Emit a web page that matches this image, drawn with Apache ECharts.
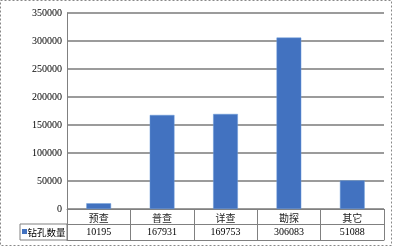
<!DOCTYPE html>
<html><head><meta charset="utf-8">
<script src="https://cdn.jsdelivr.net/npm/echarts@6/dist/echarts.min.js"></script>
<style>html,body{margin:0;padding:0;background:#fff}#c{width:396px;height:247px}</style>
</head><body><div id="c"></div>
<script>
var categories = ['预查', '普查', '详查', '勘探', '其它'];
var values = [10195, 167931, 169753, 306083, 51088];
var seriesName = '钻孔数量';
var yTicks = [0, 50000, 100000, 150000, 200000, 250000, 300000, 350000];

var serif = 'Liberation Serif, "Noto Sans CJK SC", serif';
var lineGray = '#808080';
var chart = echarts.init(document.getElementById('c'), null, {renderer: 'canvas'});
chart.setOption({
  animation: false,
  grid: {left: 67, right: 12, top: 13, bottom: 38, containLabel: false},
  xAxis: [
    {type: 'category', data: categories, position: 'bottom',
     axisLine: {show: true, lineStyle: {color: lineGray, width: 1}},
     axisTick: {show: true, interval: 0, length: 31, lineStyle: {color: lineGray}},
     axisLabel: {interval: 0, margin: 4, color: '#222', fontSize: 10, fontFamily: '"Noto Sans CJK SC", serif'},
     splitLine: {show: false}},
    {type: 'category', data: values.map(String), position: 'bottom', offset: 15,
     axisLine: {show: true, lineStyle: {color: lineGray, width: 1}},
     axisTick: {show: false},
     axisLabel: {interval: 0, margin: 3, color: '#000', fontSize: 10, fontFamily: serif}},
    {type: 'category', data: categories, position: 'bottom', offset: 31,
     axisLine: {show: true, lineStyle: {color: lineGray, width: 1}},
     axisTick: {show: false}, axisLabel: {show: false}}
  ],
  yAxis: {type: 'value', min: yTicks[0], max: yTicks[yTicks.length - 1], interval: 50000,
    axisLine: {show: true, lineStyle: {color: lineGray}},
    axisTick: {show: false},
    axisLabel: {color: '#000', fontSize: 10, fontFamily: serif, margin: 5,
      formatter: function (v) { return String(v); }},
    splitLine: {show: true, lineStyle: {color: '#7a7a7a', width: 1.5}}},
  series: [{name: seriesName, type: 'bar', data: values, barWidth: '39%', xAxisIndex: 0,
    itemStyle: {color: '#4272c0', borderColor: '#6a9ad8', borderWidth: 0.5}}],
  graphic: [
    {type: 'rect', shape: {x: 0.5, y: 0.5, width: 391, height: 245},
     style: {fill: null, stroke: '#888', lineWidth: 1, lineDash: [2, 2]}, silent: true},
    {type: 'rect', shape: {x: 20, y: 224, width: 47, height: 16},
     style: {fill: null, stroke: lineGray, lineWidth: 1}, silent: true},
    {type: 'rect', shape: {x: 22, y: 229, width: 5, height: 5},
     style: {fill: '#4272c0'}, silent: true},
    {type: 'text', x: 27.5, y: 232, style: {text: seriesName, fill: '#000', fontSize: 9.5,
     fontFamily: '"Noto Sans CJK SC", serif', verticalAlign: 'middle'}, silent: true}
  ]
});
</script></body></html>
